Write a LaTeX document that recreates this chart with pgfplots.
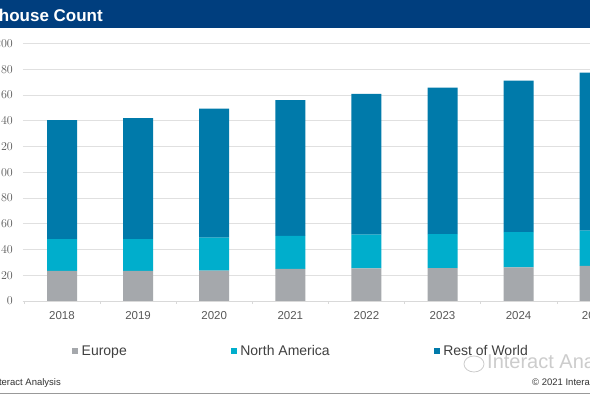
\documentclass[border=0pt]{standalone}
\usepackage{pgfplots}
\pgfplotsset{compat=1.18}
\usepackage{fontspec}
\setmainfont{Liberation Sans}
\definecolor{eu}{RGB}{165,168,172}
\definecolor{na}{RGB}{0,174,204}
\definecolor{rw}{RGB}{0,122,170}
\definecolor{hdr}{RGB}{0,62,126}
\definecolor{tick}{RGB}{89,89,89}
\definecolor{legtxt}{RGB}{64,64,64}
\begin{document}
\begin{tikzpicture}[x=1pt,y=1pt]
\clip (0,0) rectangle (590,395);
\fill[white] (0,0) rectangle (590,395);
\fill[hdr] (0,367) rectangle (590,395);
\node[anchor=base east, inner sep=0pt, text=white, font=\fontsize{17}{20}\selectfont\bfseries] at (103,373.3) {Warehouse Count};
\begin{axis}[
  at={(23pt,94pt)}, anchor=south west, scale only axis,
  width=647.8pt, height=257.5pt,
  ybar stacked, bar width=30pt,
  xmin=-0.5125, xmax=8, ymin=0, ymax=200,
  ytick={0,20,...,200},
  xtick={0,1,2,3,4,5,6,7},
  xticklabels={2018,2019,2020,2021,2022,2023,2024,2025},
  extra x ticks={-0.5,0.5,1.5,2.5,3.5,4.5,5.5,6.5,7.5},
  extra x tick labels={},
  extra x tick style={major tick length=3pt, tick style={draw=black!15}, tick align=outside},
  major tick length=0pt,
  ymajorgrids, grid style={draw=black!12, line width=0.6pt},
  axis x line*=bottom, axis y line*=left,
  x axis line style={draw=black!15, line width=0.6pt, -},
  y axis line style={draw=none},
  tick label style={font=\fontsize{11.5}{13}\selectfont, text=tick},
  yticklabel style={inner sep=0pt, xshift=-10pt},
  xticklabel style={inner sep=0pt, yshift=-10pt},
  clip=false,
  legend columns=3,
  legend style={at={(0.0756,-0.194)}, anchor=west, draw=none, fill=none, inner sep=0pt,
    font=\fontsize{14}{16}\selectfont, text=legtxt,
    /tikz/every odd column/.append style={column sep=1.5pt},
    /tikz/every even column/.append style={column sep=102pt}},
  legend image code/.code={\fill[#1, draw=none] (0pt,-3pt) rectangle (6pt,3pt);},
]
\addplot[fill=eu, draw=none] coordinates {(0,23.3) (1,23.3) (2,23.6) (3,24.9) (4,25.3) (5,25.6) (6,26.2) (7,27.2)};
\addplot[fill=na, draw=none] coordinates {(0,24.7) (1,24.7) (2,25.6) (3,25.6) (4,26.2) (5,26.4) (6,27.2) (7,27.4)};
\addplot[fill=rw, draw=none] coordinates {(0,92.5) (1,94.0) (2,100.2) (3,105.5) (4,109.3) (5,113.7) (6,117.7) (7,122.7)};
\legend{Europe, North America, Rest of World}
\end{axis}
\node[anchor=base west, inner sep=0pt, text=black!20, font=\fontsize{20}{22}\selectfont] at (487,26) {Interact Analysis};
\draw[black!20, line width=0.8pt] (474,31) ellipse (10pt and 8pt);
\node[anchor=base east, inner sep=0pt, text=black!80, font=\fontsize{9.5}{11}\selectfont] at (61,9) {Interact Analysis};
\node[anchor=base west, inner sep=0pt, text=black!80, font=\fontsize{9.5}{11}\selectfont] at (532,9) {© 2021 Interact Analysis};
\draw[black!40, line width=1.5pt] (0,1.5) -- (590,1.5);
\end{tikzpicture}
\end{document}
